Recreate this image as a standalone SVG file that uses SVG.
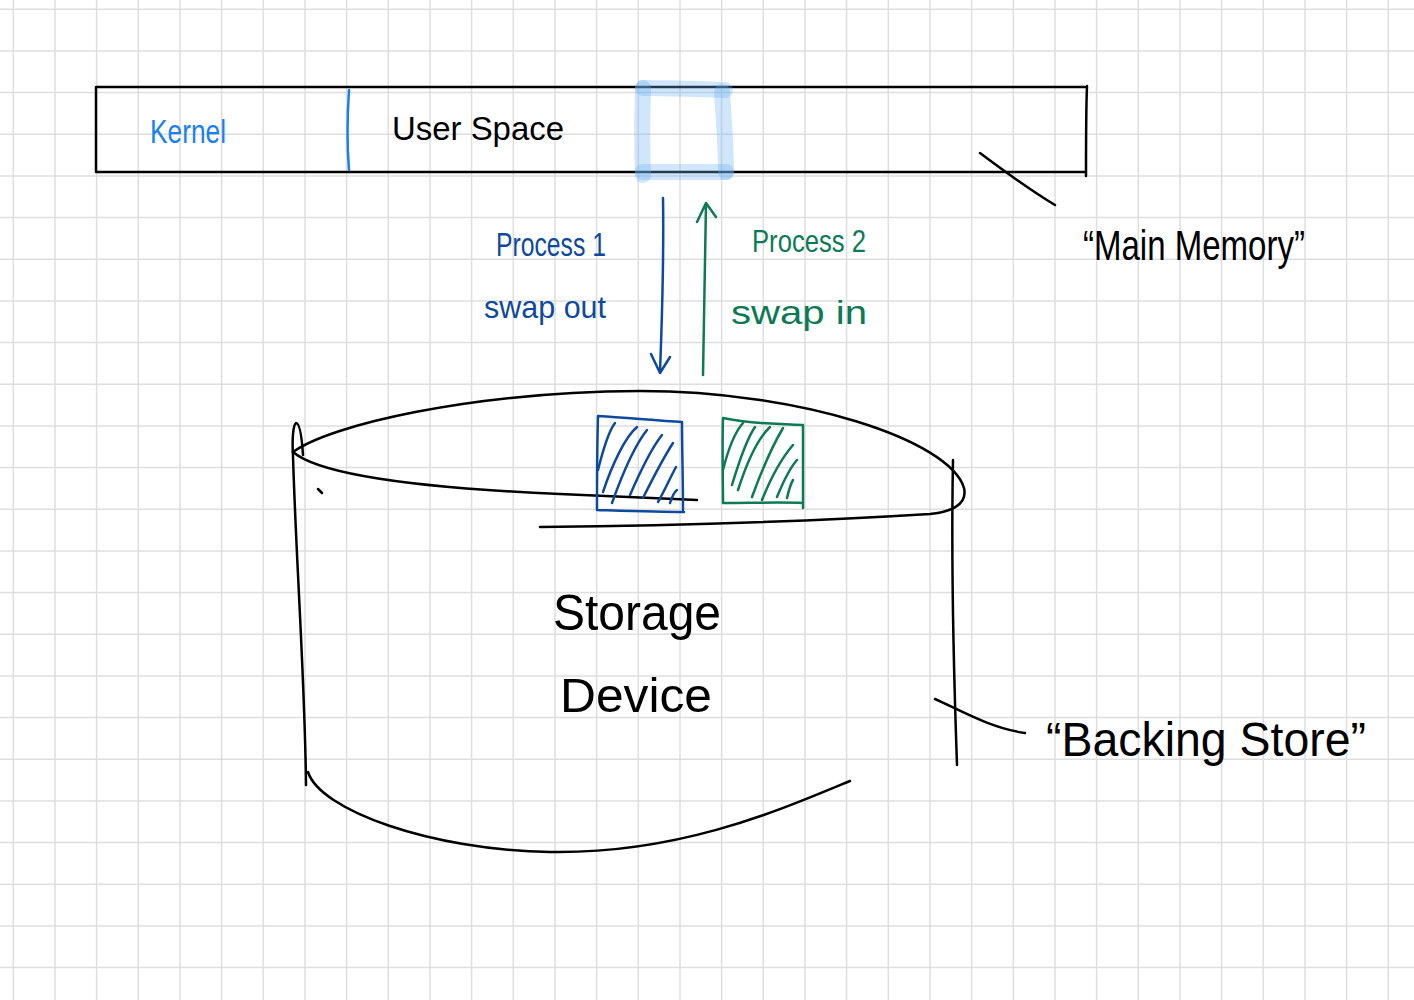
<svg xmlns="http://www.w3.org/2000/svg" width="1414" height="1000" viewBox="0 0 1414 1000">
<style>
.grid{stroke:#dedede;stroke-width:1.5;fill:none}
.ink{fill:none;stroke:#000;stroke-width:2.5;stroke-linecap:round;stroke-linejoin:round}
.blue{fill:none;stroke:#0e4a9c;stroke-width:2.5;stroke-linecap:round;stroke-linejoin:round}
.green{fill:none;stroke:#0c7a55;stroke-width:2.5;stroke-linecap:round;stroke-linejoin:round}
.hl{fill:none;stroke:#6ab2f4;stroke-opacity:0.32;stroke-width:16;stroke-linecap:round}
.t{font-family:"Liberation Sans",Arial,sans-serif}
</style>
<rect width="1414" height="1000" fill="#fff"/>
<path class="grid" d="M13.3 0V1000M55 0V1000M96.6 0V1000M138.3 0V1000M180 0V1000M221.6 0V1000M263.3 0V1000M305 0V1000M346.6 0V1000M388.3 0V1000M430 0V1000M471.6 0V1000M513.3 0V1000M555 0V1000M596.6 0V1000M638.3 0V1000M680 0V1000M721.6 0V1000M763.3 0V1000M805 0V1000M846.6 0V1000M888.3 0V1000M930 0V1000M971.6 0V1000M1013.3 0V1000M1055 0V1000M1096.6 0V1000M1138.3 0V1000M1180 0V1000M1221.6 0V1000M1263.3 0V1000M1305 0V1000M1346.6 0V1000M1388.3 0V1000M0 9.3H1414M0 51H1414M0 92.6H1414M0 134.3H1414M0 176H1414M0 217.6H1414M0 259.3H1414M0 301H1414M0 342.6H1414M0 384.3H1414M0 426H1414M0 467.6H1414M0 509.3H1414M0 551H1414M0 592.6H1414M0 634.3H1414M0 676H1414M0 717.6H1414M0 759.3H1414M0 801H1414M0 842.6H1414M0 884.3H1414M0 926H1414M0 967.6H1414"/>

<g id="main-memory">
<path class="ink" d="M96 87H1085M96 87V172H1085M1087 86C1086 110 1086 140 1086 176"/>
</g>
<g id="kernel">
<path d="M349 90C347 120 347 145 349 170" fill="none" stroke="#1a7ff0" stroke-width="2.5" stroke-linecap="round"/>
<text class="t" x="150" y="143" font-size="34" fill="#1a7ff0" textLength="76" lengthAdjust="spacingAndGlyphs">Kernel</text>
</g>
<g id="user-space">
<text class="t" x="392" y="140" font-size="34" fill="#000" textLength="172" lengthAdjust="spacingAndGlyphs">User Space</text>
</g>
<g id="highlight">
<path class="hl" d="M643 88C680 88 700 89 725 90"/>
<path class="hl" d="M643 88C642 120 642 150 643 175"/>
<path class="hl" d="M722 92C724 120 726 150 726 172"/>
<path class="hl" d="M643 172H726"/>
</g>

<g id="storage-device">
<path class="ink" d="M293 452C330 425 470 392 640 391C800 391 950 440 964 488C968 505 950 512 930 514C800 522 650 526 540 527"/>
<path class="ink" d="M293 452C320 475 420 488 560 494C620 497 670 499 697 500"/>
<path class="ink" d="M303 455C302 440 300 423 296 423C293 425 292 440 293 456C296 560 305 680 306 785"/>
<path class="ink" d="M318 489L322 493"/>
<path class="ink" d="M953 460C951 560 954 680 957 765"/>
<path class="ink" d="M308 772C320 810 430 850 550 852C680 854 780 810 850 781"/>
<text class="t" x="553" y="630" font-size="50" fill="#000" textLength="168" lengthAdjust="spacingAndGlyphs">Storage</text>
<text class="t" x="560" y="712" font-size="48" fill="#000" textLength="152" lengthAdjust="spacingAndGlyphs">Device</text>
</g>

<g id="process1-block">
<path class="blue" d="M598 416C630 418 660 421 682 422C682 450 683 480 683 512M598 416C597 450 597 480 597 510C630 511 660 512 684 512"/>
<path class="blue" d="M598 470C603 450 608 432 615 423M603 492C612 465 625 437 637 427M612 503C622 475 635 445 647 430M630 495C640 472 650 450 662 435M643 498C652 480 662 460 673 443M658 502C665 490 670 478 676 467M670 503C672 497 674 492 677 490"/>
</g>
<g id="process2-block">
<path class="green" d="M723 418C750 424 780 424 803 425C803 450 803 480 803 508M723 418C722 450 723 480 723 503C750 503 780 502 803 503"/>
<path class="green" d="M723 470C728 450 735 432 743 423M732 485C738 465 746 440 755 427M738 490C746 465 756 440 770 427M752 497C760 475 770 450 783 428M762 500C770 480 780 460 793 445M777 497C782 485 788 470 797 460M787 498C789 490 790 485 793 480"/>
</g>

<g id="labels">
<text class="t" x="496" y="256" font-size="34" fill="#0e4a9c" textLength="110" lengthAdjust="spacingAndGlyphs">Process 1</text>
<text class="t" x="484" y="318" font-size="32" fill="#0e4a9c" textLength="122" lengthAdjust="spacingAndGlyphs">swap out</text>
<text class="t" x="752" y="252" font-size="32" fill="#0c7a55" textLength="114" lengthAdjust="spacingAndGlyphs">Process 2</text>
<text class="t" x="731" y="324" font-size="34" fill="#0c7a55" textLength="136" lengthAdjust="spacingAndGlyphs">swap in</text>
<text class="t" x="1083" y="260" font-size="42" fill="#000" textLength="222" lengthAdjust="spacingAndGlyphs">“Main Memory”</text>
<text class="t" x="1046" y="756" font-size="48" fill="#000" textLength="320" lengthAdjust="spacingAndGlyphs">“Backing Store”</text>
</g>

<g id="connectors">
<path class="blue" d="M663 198C664 260 662 320 660 372M651 354L660 373L670 357"/>
<path class="green" d="M703 375C704 320 705 260 706 204M697 222L706 203L716 217"/>
<path class="ink" d="M980 153C1000 168 1030 190 1055 205"/>
<path class="ink" d="M935 699C960 710 990 728 1025 733"/>
</g>
</svg>
